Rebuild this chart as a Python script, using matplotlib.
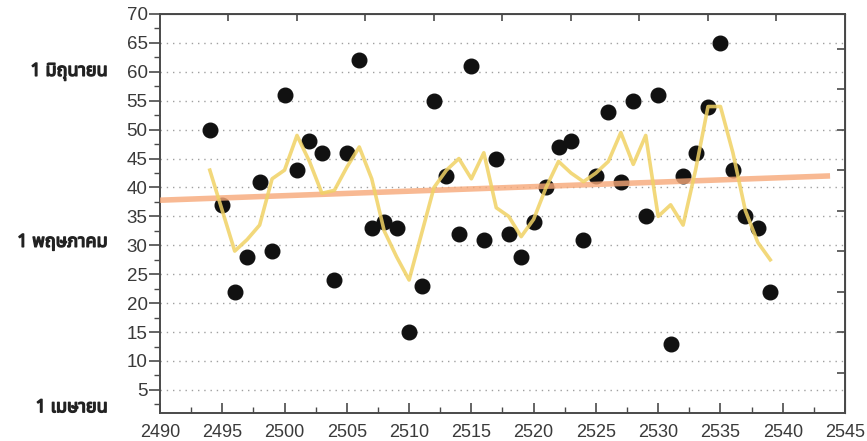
import matplotlib.pyplot as plt
import matplotlib.patheffects as pe
import numpy as np
from matplotlib import font_manager, ft2font

# data
years = list(range(2494, 2540))
onset_day = [50, 37, 22, 28, 41, 29, 56, 43, 48, 46, 24, 46,
             62, 33, 34, 33, 15, 23, 55, 42, 32, 61, 31, 45,
             32, 28, 34, 40, 47, 48, 31, 42, 53, 41, 55, 35,
             56, 13, 42, 46, 54, 65, 43, 35, 33, 22]
smooth_day = [43, 36, 29, 31, 33.5, 41.5, 43, 49, 44.5, 39, 39.5, 43.5,
              47, 41.5, 32.5, 28, 24, 32, 40, 43, 45, 41.5, 46, 36.5,
              35, 31.5, 34.5, 40, 44.5, 42.5, 41, 42.5, 44.5, 49.5, 44, 49,
              35, 37, 33.5, 43, 54, 54, 46, 36, 30.5, 27.5]
trend_x = [2490, 2543.8]
trend_y = [37.8, 42.0]

month_labels = ['1 มิถุนายน', '1 พฤษภาคม', '1 เมษายน']
month_pos = [60.0, 30.6, 2.0]

x_ticks = list(range(2490, 2546, 5))
y_ticks = list(range(5, 71, 5))
top_ticks = [2495.5 + 5.5 * i for i in range(9)]
right_ticks = [8 + 7 * i for i in range(9)]


def find_thai_family():
    # look through installed fonts for one that has Thai glyphs
    found = []
    for f in font_manager.fontManager.ttflist:
        try:
            cmap = ft2font.FT2Font(f.fname).get_charmap()
        except Exception:
            continue
        if all(ord(c) in cmap for c in 'มิถุนายพฤษภาคมเ'):
            found.append(f.name)
    for pref in ['Noto Sans Thai', 'Noto Sans Thai UI', 'Loma', 'Garuda',
                 'FreeSans', 'Tlwg Typo']:
        if pref in found:
            return pref
    return found[0] if found else None


thai = find_thai_family()
thai_fams = ([thai] if thai else []) + ['DejaVu Sans', 'Noto Sans']

plt.rcParams['font.family'] = ['Liberation Sans', 'DejaVu Sans', 'Noto Sans']

fig = plt.figure(figsize=(8.67, 4.41), dpi=100)
ax = fig.add_axes([160 / 867, 28 / 441, 685 / 867, 399 / 441])

ax.set_xlim(2490, 2545)
ax.set_ylim(1, 70)

# dotted horizontal grid
for v in y_ticks[:-1]:
    ax.axhline(v, color='#a0a0a0', lw=1.0, ls=(0, (1, 3.5)), zorder=0)

ax.plot(years, onset_day, 'o', color='#111111', markersize=10.5, zorder=2)
ax.plot(trend_x, trend_y, color='#f7a878', lw=4, alpha=0.8,
        solid_capstyle='butt', zorder=3)
ax.plot(years, smooth_day, color='#f0d264', lw=2.6, alpha=0.85, zorder=4)

for s in ax.spines.values():
    s.set_color('#4a4a4a')
    s.set_linewidth(1.4)

ax.set_xticks(x_ticks)
ax.set_xticks(np.arange(2492.5, 2545, 5), minor=True)
ax.set_yticks(y_ticks)
ax.set_yticks(np.arange(2.5, 70, 5), minor=True)
ax.tick_params(axis='x', which='major', direction='in', length=7, width=1.2,
               colors='#4a4a4a', labelcolor='#3a3a3a', labelsize=13, pad=8)
ax.tick_params(axis='x', which='minor', direction='in', length=4, width=1.0,
               colors='#4a4a4a')
ax.tick_params(axis='y', which='major', direction='out', length=8, width=1.2,
               colors='#4a4a4a', labelcolor='#3a3a3a', labelsize=13.5, pad=1)
ax.tick_params(axis='y', which='minor', direction='out', length=4, width=1.0,
               colors='#4a4a4a')

top = ax.secondary_xaxis('top')
top.set_xticks(top_ticks)
top.tick_params(direction='in', length=5, width=1.2, colors='#4a4a4a',
                labeltop=False)
right = ax.secondary_yaxis('right')
right.set_yticks(right_ticks)
right.tick_params(direction='in', length=6, width=1.2, colors='#4a4a4a',
                  labelright=False)

# Thai month labels; the stroke thickens them since the font has no bold
bold = [pe.withStroke(linewidth=1.0, foreground='#222222')]
for lab, pos in zip(month_labels, month_pos):
    yf = ax.transData.transform((2490, pos))[1]
    yf = fig.transFigure.inverted().transform((0, yf))[1]
    fig.text(108 / 867, yf, lab, ha='right', va='center', fontsize=13,
             fontweight='bold', color='#222222', family=thai_fams,
             path_effects=bold)

fig.savefig('out.png', dpi=100)
